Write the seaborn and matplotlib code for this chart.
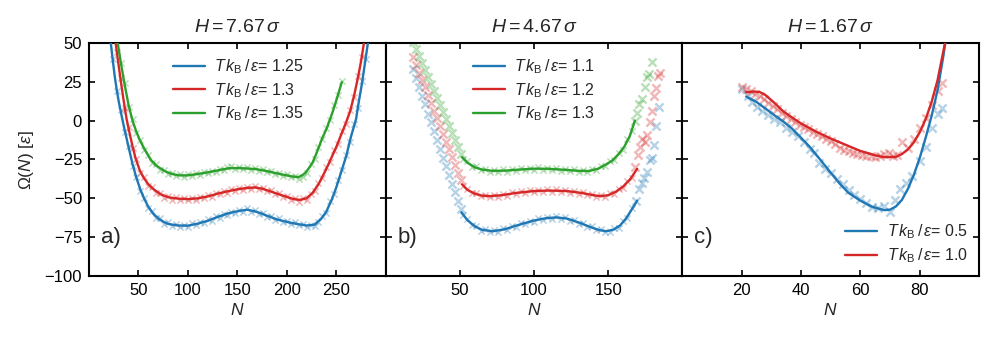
import matplotlib
matplotlib.use("Agg")
import matplotlib.pyplot as plt
import seaborn as sns

# ---------------- data ----------------
# Panel a  (H = 7.67 sigma)
a_temps = ["1.25", "1.3", "1.35"]
a_blue_line_N = [20, 22, 24, 26, 28, 30, 33, 36, 40, 44, 48, 52, 56, 60, 65, 70, 75, 80, 90, 100, 110, 120, 130, 140,
                 150, 160, 170, 180, 190, 200, 210, 220, 228, 235, 240, 246, 250, 255, 260, 265, 270, 273, 276, 279,
                 282, 285]
a_blue_line = [63, 50, 39, 28.5, 20, 12.5, 3, -6, -17, -28, -37, -44.5, -50.5, -55.5, -60, -63, -65, -66.5, -67.5,
               -67.6, -66.3, -64.5, -62, -59.8, -58.3, -57.3, -58.8, -61.2, -63.6, -65.2, -66.5, -67.5, -67, -63,
               -58.5, -50, -43, -33, -23, -10, 1, 13, 24, 37, 50, 63]
a_red_line_N = [24, 26.5, 29, 32, 35, 38, 41, 44, 47, 51, 55, 60, 65, 72, 80, 90, 100, 110, 120, 130, 140, 150, 160,
                168, 175, 182, 190, 199, 207, 213, 220, 226, 232, 239, 245, 250, 255, 260, 264, 268, 272, 275, 278, 281]
a_red_line = [65, 52, 40, 26, 13, 1, -8, -16.5, -24, -31.5, -36.5, -41, -44, -47.3, -49.3, -50.2, -50.5, -50, -48.8,
              -47, -45.5, -44.2, -43.3, -43, -43.8, -45.2, -47, -48.9, -50.5, -51, -50, -46.5, -41, -32.3, -24, -17,
              -9, -1, 6, 16, 28, 38, 50, 62]
a_green_line_N = [26, 29, 32, 35.5, 40, 44, 47.5, 51, 55, 62, 68, 76, 83, 91, 100, 108, 118, 128, 135, 142, 150, 160,
                  169, 180, 189, 198, 206, 212, 216, 219, 223, 226, 230, 233, 236, 240, 246, 251, 255.6]
a_green_line = [64, 50, 38, 25, 10, 0, -6.5, -12, -17, -24.8, -29, -32.3, -34.2, -35.2, -35.2, -34.5, -33.5, -32.3,
                -31.4, -30.6, -30.5, -30.8, -31.2, -32.5, -33.8, -35, -36, -36.3, -35, -33.4, -30, -27, -21, -16,
                -11, -5.5, 5, 15, 24.8]

a_blue_pts_N = [20, 24, 28, 32, 36, 40, 44, 48, 52, 56, 60, 64, 68, 72, 76, 80, 84, 88, 92, 96, 100, 104, 108, 112,
                116, 120, 124, 128, 132, 136, 140, 144, 148, 152, 156, 160, 164, 168, 172, 176, 180, 184, 188, 192,
                196, 200, 204, 208, 212, 216, 220, 224, 228, 232, 236, 240, 244, 248, 252, 256, 260, 264, 268, 272,
                276, 280, 284]
a_blue_pts = [62, 40, 19, 7, -7, -16, -29, -36, -45.5, -49.5, -56.5, -58.3, -62.8, -63, -66.5, -65.5, -68, -66.5,
              -68.5, -67, -68.5, -66, -67.5, -65, -66, -63.5, -64.5, -61.5, -62.5, -60, -61, -58.5, -59.5, -57.3,
              -58.5, -56.5, -58.8, -57.8, -60.3, -59.5, -62, -61.5, -64, -63, -65.5, -64.5, -66.5, -65.5, -67.5,
              -66.5, -68.5, -67, -68, -65.5, -61.5, -59.5, -52, -47.5, -38, -32, -22, -14, -2, 8, 25.5, 40, 57]
a_red_pts_N = [24, 28, 32, 36, 40, 44, 48, 52, 56, 60, 64, 68, 72, 76, 80, 84, 88, 92, 96, 100, 104, 108, 112, 116,
               120, 124, 128, 132, 136, 140, 144, 148, 152, 156, 160, 164, 168, 172, 176, 180, 184, 188, 192, 196,
               200, 204, 208, 212, 216, 220, 224, 228, 232, 236, 240, 244, 248, 252, 256, 260, 264, 268, 272, 276,
               280]
a_red_pts = [66, 44, 27.5, 8, -4, -17.5, -25, -33.5, -36.5, -42, -42.6, -46.4, -46.6, -49.5, -48.5, -50.8, -49.2,
             -51.2, -49.6, -51.3, -49.5, -51, -49, -50, -48, -49, -46.6, -47.5, -45.3, -46.3, -44.2, -45.2, -43.3,
             -44.5, -42.5, -43.9, -42.2, -44.3, -43.2, -45.6, -44.9, -47.4, -46.6, -49.1, -48.2, -50.8, -49.8, -52.5,
             -49.5, -51, -47, -45.5, -40, -37, -30, -26.4, -19, -14.8, -6.5, -2, 7, 15, 29, 41, 57.5]
a_green_pts_N = [28, 32, 36, 40, 44, 48, 52, 56, 60, 64, 68, 72, 76, 80, 84, 88, 92, 96, 100, 104, 108, 112, 116, 120,
                 124, 128, 132, 136, 140, 144, 148, 152, 156, 160, 164, 168, 172, 176, 180, 184, 188, 192, 196, 200,
                 204, 208, 212, 216, 220, 224, 228, 232, 236, 240, 244, 248, 252, 256]
a_green_pts = [55.5, 37, 24, 9, 1, -8.2, -12.5, -19, -21.8, -27, -28.2, -31.5, -31.6, -34.2, -33.6, -35.6, -34.5, -36,
               -34.6, -35.6, -33.8, -34.8, -33, -34, -32.1, -33, -31.1, -32, -30.1, -29.5, -31.2, -29.9, -31.4, -30.1,
               -31.7, -30.5, -32.3, -31.4, -33.2, -32.4, -34.4, -33.5, -35.4, -34.6, -36.5, -35.4, -37.5, -36, -33.5,
               -28, -25, -16.8, -12, -4.5, 0.5, 10, 16.5, 25.5]

# Panel b  (H = 4.67 sigma)
b_temps = ["1.1", "1.2", "1.3"]
b_blue_line_N = [51, 55, 60, 65, 72, 80, 90, 100, 108, 115, 122, 130, 138, 144, 149, 154, 158, 162, 166, 169.5]
b_blue_line = [-59, -64, -68, -70.3, -71.2, -70, -67, -64.3, -62.8, -62.3, -63, -65.5, -68.5, -70.5, -71.2, -70,
               -67.5, -63, -57, -51.5]
b_red_line_N = [51.5, 55, 60, 65, 70, 78, 88, 100, 110, 122, 132, 140, 145, 150, 155, 160, 165, 169.5]
b_red_line = [-41, -44.5, -47, -48.3, -48.6, -48, -46.5, -45.3, -45, -45.3, -46.5, -48, -48.6, -48, -45.8, -42.5,
              -37.5, -31]
b_green_line_N = [51.5, 55, 60, 65, 72, 80, 90, 100, 110, 120, 130, 137, 143, 148, 153, 157, 161, 164.5, 168]
b_green_line = [-23.5, -27, -30, -31.5, -32.3, -32.2, -31.5, -30.9, -31, -31.6, -32.3, -32.4, -31, -28.5, -25.5,
                -21.5, -16.5, -10, 0]

b_core_N = [52, 55, 58, 61, 64, 67, 70, 73, 76, 79, 82, 85, 88, 91, 94, 97, 100, 103, 106, 109, 112, 115, 118, 121,
            124, 127, 130, 133, 136, 139, 142, 145, 148, 151, 154, 157, 160, 163, 166]
b_blue_core = [-61, -63.2, -67.2, -67.8, -70.8, -69.8, -72, -70.3, -71.5, -69.4, -70.2, -67.7, -68.4, -66, -66.7,
               -64.3, -65, -63, -63.9, -62, -63.2, -61.6, -63.3, -62.2, -64.4, -63.8, -66.3, -65.8, -68.5, -68,
               -70.6, -69.8, -71.9, -71.6, -69.2, -69, -64.5, -62.5, -56]
b_red_core = [-42.3, -43.7, -46.8, -46.5, -48.8, -47.7, -49.4, -47.6, -49, -47.1, -48.2, -46.2, -47.3, -45.4, -46.7,
              -44.8, -46.1, -44.4, -45.9, -44.2, -45.8, -44.3, -46, -44.5, -46.3, -45.1, -47.1, -45.9, -48.1, -47,
              -49, -47.8, -49.2, -46.8, -47.2, -43.7, -43.3, -38.7, -36.9]
b_green_core = [-24.8, -26.2, -29.6, -29.5, -32, -31, -32.9, -31.5, -33.1, -31.4, -32.9, -31.1, -32.4, -30.6, -32,
                -30.3, -31.7, -30.1, -31.8, -30.2, -31.9, -30.5, -32.3, -30.9, -32.7, -31.3, -33.1, -31.6, -33.2,
                -31.1, -32, -29.2, -29.3, -25.9, -25.3, -20.7, -18.6, -12, -6.5]

b_tail_left_N = [18.5, 20.5, 22.5, 24.5, 26.5, 28.5, 30.5, 32.5, 34.5, 36.5, 38.5, 40.5, 42.5, 44.5, 46.5, 48.5, 50.5]
b_blue_tail_left = [33, 27.5, 21.5, 16, 10.5, 4.5, -1, -6.5, -12.5, -18, -24, -29.5, -35, -40.5, -46, -52, -57]
b_red_tail_left = [41, 36, 31, 26, 21.5, 16.5, 11.5, 6.5, 1.5, -3.5, -8.5, -13.5, -18.5, -23.5, -28.5, -33.5, -38.5]
b_green_tail_left = [50.5, 46, 41.5, 37, 32.5, 28, 23.5, 19, 14.5, 10, 5.5, 1, -3.5, -8, -12.5, -17, -21.5]

b_blue_tail_right_N = [169, 171, 172.5, 174, 176, 178, 179.5, 181, 182.5, 184.5]
b_blue_tail_right = [-52, -44, -40, -37, -33, -25.5, -24, -15.5, -3.5, 8.5]
b_red_tail_right_N = [168, 170, 171.5, 173, 174.5, 176, 178, 179.5, 181, 182.5, 183.5, 185]
b_red_tail_right = [-30, -22, -17, -12, -14, -9.5, -1, 6, 16, 21, 29, 31]
b_green_tail_right_N = [168, 169.5, 171, 172.5, 175, 176, 177.5, 179.5]
b_green_tail_right = [0, 5, 11, 14, 22, 28, 30, 38]

# Panel c  (H = 1.67 sigma)
c_temps = ["0.5", "1.0"]
c_blue_line_N = [21.5, 25, 28, 31, 34, 37, 40, 43, 46, 50, 53, 56, 60, 64, 68, 70, 72, 74, 76, 78, 80, 82, 84, 86,
                 88, 89]
c_blue_line = [15.5, 12, 7.8, 3.5, -0.5, -5.2, -11, -17, -24, -33.5, -40.5, -46.5, -51.5, -55.5, -57.6, -57.3, -55.2,
               -51, -44, -35, -24, -11, 3, 19.5, 42, 55]
c_red_line_N = [21.5, 24, 26, 28, 31, 34, 37, 40, 45, 50, 55, 60, 65, 68, 72, 74, 76, 78, 80, 82, 84, 86, 88, 89]
c_red_line = [18.3, 18.8, 18.5, 16.5, 11.5, 6, 2, -1.8, -7, -11.5, -15.5, -19.5, -22.3, -23.5, -23.3, -21.5, -18.5,
              -14, -7.5, 1, 12, 26, 45, 55]
c_blue_pts_N = [20, 22, 23.5, 25, 27, 29, 31, 33, 35, 37, 39, 41, 43, 44.5, 46, 48, 50, 52, 54, 56, 58, 60, 62, 64,
                66, 68, 70, 71.5, 73.5, 75.5, 77.5, 80, 82, 84, 86, 87.5]
c_blue_pts = [20.5, 16, 12, 9, 6.5, 3.5, 1, -1, -4.5, -7.5, -10, -14, -18, -21, -27, -31, -34, -37.5, -41, -44.5,
              -48, -50.5, -53, -55.5, -56, -55, -58.5, -51, -44, -40, -35.5, -26, -17, -5, 4, 8]
c_red_pts_N = [20, 21.5, 23, 24.5, 26, 27.5, 29, 30.5, 32, 33.5, 35, 36.5, 38, 39.5, 41, 42.5, 44, 45.5, 47, 48.5, 50,
               51.5, 53, 54.5, 56, 57.5, 59, 60.5, 62, 63.5, 65, 66.5, 68, 69.5, 71, 72.5, 74, 76, 78, 80, 82, 84,
               86, 87.5]
c_red_pts = [22, 20.5, 19, 17, 16, 14, 11.5, 9.5, 7.5, 5, 3, 1, -1, -2.5, -4, -5.5, -7, -8.5, -10, -11.5, -13, -15,
             -17.5, -19, -19.5, -20.5, -21.5, -22, -23, -22.5, -23.5, -22.5, -21.5, -21, -22.5, -22, -14, -17.5, -12,
             -5, 2, 10, 19, 24]

# ---------------- style ----------------
sns.set_theme(style="ticks")
plt.rcParams.update({
    "font.family": ["Liberation Sans", "DejaVu Sans"],
    "mathtext.fontset": "custom",
    "mathtext.rm": "Liberation Sans",
    "mathtext.it": "Liberation Sans:italic",
    "mathtext.bf": "Liberation Sans:bold",
    "mathtext.sf": "Liberation Sans",
    "axes.linewidth": 1.5,
    "axes.edgecolor": "black",
    "xtick.direction": "in",
    "ytick.direction": "in",
    "xtick.major.size": 4.5,
    "ytick.major.size": 4.5,
    "xtick.major.width": 1.2,
    "ytick.major.width": 1.2,
    "xtick.labelsize": 12,
    "ytick.labelsize": 12,
    "xtick.color": "black",
    "ytick.color": "black",
})

BLUE, RED, GREEN = "#1f77b4", "#d62728", "#2ca02c"

fig, axes = plt.subplots(1, 3, figsize=(9.97, 3.39), dpi=100, sharey=True)
fig.subplots_adjust(left=0.0893, right=0.982, bottom=0.186, top=0.873, wspace=0)


def label(t):
    return r"$T\,k_{\mathrm{B}}\,/\,\varepsilon$= " + t


def pts(ax, x, y, c, s, lw):
    sns.scatterplot(x=x, y=y, ax=ax, marker="x", color=c, s=s, linewidth=lw, alpha=0.33, zorder=1, legend=False)


def line(ax, x, y, c, lab):
    sns.lineplot(x=x, y=y, ax=ax, color=c, linewidth=1.7, label=lab, zorder=3, sort=False)


SMALL, SMALL_LW, BIG, BIG_LW = 20, 1.1, 34, 1.7

# Panel a
ax = axes[0]
pts(ax, a_blue_pts_N, a_blue_pts, BLUE, SMALL, SMALL_LW)
pts(ax, a_red_pts_N, a_red_pts, RED, SMALL, SMALL_LW)
pts(ax, a_green_pts_N, a_green_pts, GREEN, SMALL, SMALL_LW)
line(ax, a_blue_line_N, a_blue_line, BLUE, label(a_temps[0]))
line(ax, a_red_line_N, a_red_line, RED, label(a_temps[1]))
line(ax, a_green_line_N, a_green_line, GREEN, label(a_temps[2]))
ax.set_xlim(0, 300)
ax.set_xticks([50, 100, 150, 200, 250])
ax.set_title(r"$H = 7.67\,\sigma$", fontsize=14, pad=8)

# Panel b
ax = axes[1]
pts(ax, b_core_N, b_blue_core, BLUE, SMALL, SMALL_LW)
pts(ax, b_core_N, b_red_core, RED, SMALL, SMALL_LW)
pts(ax, b_core_N, b_green_core, GREEN, SMALL, SMALL_LW)
pts(ax, b_tail_left_N, b_blue_tail_left, BLUE, BIG, BIG_LW)
pts(ax, b_tail_left_N, b_red_tail_left, RED, BIG, BIG_LW)
pts(ax, b_tail_left_N, b_green_tail_left, GREEN, BIG, BIG_LW)
pts(ax, b_blue_tail_right_N, b_blue_tail_right, BLUE, BIG, BIG_LW)
pts(ax, b_red_tail_right_N, b_red_tail_right, RED, BIG, BIG_LW)
pts(ax, b_green_tail_right_N, b_green_tail_right, GREEN, BIG, BIG_LW)
line(ax, b_blue_line_N, b_blue_line, BLUE, label(b_temps[0]))
line(ax, b_red_line_N, b_red_line, RED, label(b_temps[1]))
line(ax, b_green_line_N, b_green_line, GREEN, label(b_temps[2]))
ax.set_xlim(0, 200)
ax.set_xticks([50, 100, 150])
ax.set_title(r"$H = 4.67\,\sigma$", fontsize=14, pad=8)

# Panel c
ax = axes[2]
pts(ax, c_blue_pts_N, c_blue_pts, BLUE, BIG, BIG_LW)
pts(ax, c_red_pts_N, c_red_pts, RED, BIG, BIG_LW)
line(ax, c_blue_line_N, c_blue_line, BLUE, label(c_temps[0]))
line(ax, c_red_line_N, c_red_line, RED, label(c_temps[1]))
ax.set_xlim(0, 100)
ax.set_xticks([20, 40, 60, 80])
ax.set_title(r"$H = 1.67\,\sigma$", fontsize=14, pad=8)

for i, ax in enumerate(axes):
    ax.set_ylim(-100, 50)
    ax.set_yticks([-100, -75, -50, -25, 0, 25, 50])
    ax.set_xlabel(r"$N$", fontsize=12.5, labelpad=3)
    ax.set_ylabel("")
    ax.tick_params(top=True, right=True, labelleft=(i == 0), pad=5)
    for sp in ax.spines.values():
        sp.set_visible(True)
        sp.set_linewidth(1.5)
    ax.text(0.04, 0.165, "abc"[i] + ")", transform=ax.transAxes, fontsize=16, va="center", ha="left")

axes[0].set_ylabel(r"$\Omega(N)\ [\varepsilon]$", fontsize=12.5, labelpad=6)

leg_kw = dict(frameon=False, fontsize=11.5, handlelength=2.0, handletextpad=0.6, labelspacing=0.3, borderaxespad=0)
axes[0].legend(loc="upper left", bbox_to_anchor=(0.26, 0.965), **leg_kw)
axes[1].legend(loc="upper left", bbox_to_anchor=(0.272, 0.965), **leg_kw)
axes[2].legend(loc="lower left", bbox_to_anchor=(0.527, 0.02), **leg_kw)

fig.savefig("out.png", dpi=100)
